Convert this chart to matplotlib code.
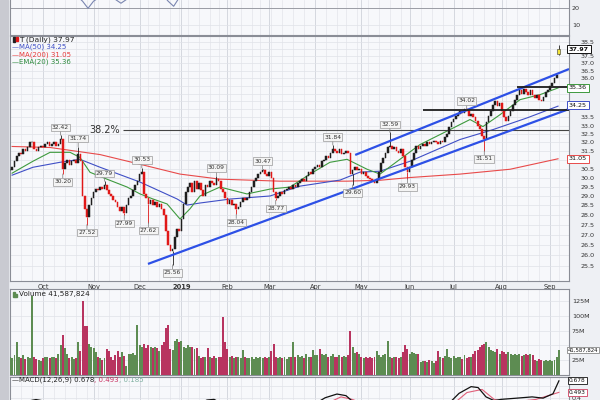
import numpy as np
import pandas as pd
import matplotlib.pyplot as plt
import matplotlib.transforms as mtransforms
from matplotlib.patches import Rectangle
from matplotlib.ticker import FormatStrFormatter, NullLocator, NullFormatter

# trading calendar (Sep 10 2018 .. Sep 9 2019)
holidays = ['2018-11-22', '2018-12-05', '2018-12-25', '2019-01-01', '2019-01-21',
            '2019-02-18', '2019-04-19', '2019-05-27', '2019-07-04', '2019-09-02']
dates = pd.bdate_range('2018-09-10', '2019-09-09', freq='C', holidays=holidays)

# daily closes
closes = [
    30.4, 30.6, 30.9, 31.2, 31.4, 31.3, 31.6, 31.5, 31.7, 32.0,
    32.0, 31.6, 31.5, 31.7, 31.8, 31.7, 31.9, 32.0, 31.8, 31.9,
    32.0, 31.8, 31.9, 32.2, 30.5, 30.8, 31.0, 30.7, 30.9, 31.0,
    30.8, 31.3, 30.9, 29.0, 28.3, 27.9, 28.5, 28.9, 29.2, 29.4,
    29.3, 29.5, 29.4, 29.6, 29.3, 29.1, 29.0, 28.8, 28.7, 28.4,
    28.2, 28.4, 28.1, 28.5, 28.9, 29.0, 29.3, 29.6, 29.8, 30.2,
    30.3, 29.1, 28.9, 28.6, 28.8, 28.5, 28.7, 28.4, 28.6, 28.3,
    28.0, 27.2, 26.5, 26.2, 26.3, 26.9, 27.3, 27.2, 27.8, 28.6,
    29.2, 29.5, 29.7, 29.2, 29.8, 29.4, 29.7, 29.3, 29.0, 29.6,
    29.5, 29.8, 29.7, 29.6, 29.9, 29.8, 29.4, 29.2, 28.9, 28.6,
    28.8, 28.5, 28.6, 28.3, 28.4, 28.7, 28.9, 28.8, 28.9, 29.2,
    29.5, 29.8, 30.0, 30.2, 30.3, 30.4, 30.2, 30.1, 30.3, 30.0,
    29.2, 28.9, 29.0, 29.2, 29.1, 29.3, 29.4, 29.5, 29.4, 29.6,
    29.5, 29.7, 29.8, 29.9, 29.8, 30.1, 30.3, 30.2, 30.5, 30.6,
    30.7, 30.6, 30.9, 31.0, 31.2, 31.1, 31.4, 31.6, 31.5, 31.4,
    31.6, 31.3, 31.4, 31.5, 31.4, 30.2, 30.4, 30.6, 30.4, 30.5,
    30.2, 30.3, 30.1, 30.0, 29.9, 29.8, 29.7, 29.9, 30.3, 30.8,
    31.1, 31.4, 31.7, 31.8, 31.6, 31.7, 31.5, 31.4, 31.6, 31.2,
    30.6, 30.3, 30.6, 31.0, 31.4, 31.8, 31.6, 31.8, 31.9, 31.8,
    32.0, 31.9, 32.0, 32.1, 32.0, 31.9, 32.1, 32.0, 32.3, 32.5,
    32.9, 33.2, 33.4, 33.6, 33.7, 33.9, 33.8, 34.0, 33.9, 33.6,
    33.7, 33.5, 33.3, 33.0, 32.8, 32.4, 32.2, 33.2, 33.6, 33.9,
    34.3, 34.5, 34.2, 34.4, 33.9, 33.5, 33.3, 33.6, 33.9, 34.3,
    34.6, 34.9, 35.2, 35.0, 35.3, 35.1, 34.9, 35.2, 34.9, 34.7,
    34.9, 34.6, 34.5, 34.8, 35.1, 35.2, 35.5, 35.7, 36.0, 36.2,
    37.97,
]
last_open, last_high, last_low = 37.62, 38.25, 37.55

# daily volume, millions
volume = [
    31, 29, 34, 55, 30, 28, 33, 27, 30, 29,
    133, 30, 27, 26, 24, 29, 30, 31, 28, 30,
    31, 29, 35, 50, 68, 45, 35, 28, 30, 27,
    29, 56, 40, 125, 82, 82, 52, 48, 45, 38,
    30, 28, 26, 29, 44, 40, 30, 26, 34, 40,
    31, 38, 32, 15, 36, 35, 37, 34, 85, 50,
    48, 52, 45, 50, 47, 46, 48, 45, 40, 50,
    55, 80, 84, 44, 42, 57, 60, 55, 58, 47,
    45, 50, 48, 47, 44, 46, 32, 28, 30, 30,
    45, 30, 28, 32, 29, 30, 31, 97, 55, 44,
    30, 32, 29, 30, 31, 28, 42, 30, 28, 29,
    31, 27, 30, 29, 30, 28, 31, 29, 30, 40,
    53, 30, 28, 31, 29, 30, 27, 30, 31, 55,
    30, 33, 30, 32, 28, 35, 31, 30, 42, 34,
    33, 43, 36, 33, 35, 30, 32, 35, 30, 31,
    33, 30, 32, 30, 34, 75, 47, 37, 38, 35,
    30, 28, 31, 29, 30, 28, 31, 40, 33, 30,
    33, 35, 57, 30, 28, 31, 30, 29, 30, 38,
    50, 44, 36, 38, 37, 35, 36, 22, 24, 23,
    22, 25, 23, 21, 24, 40, 30, 28, 32, 43,
    30, 28, 32, 29, 31, 30, 27, 33, 29, 30,
    31, 35, 40, 42, 47, 50, 52, 55, 48, 42,
    40, 38, 43, 36, 40, 38, 36, 39, 35, 33,
    36, 34, 35, 32, 34, 36, 33, 35, 34, 25,
    24, 27, 25, 24, 26, 23, 25, 24, 26, 30,
    41.59,
]

# moving averages (sampled points: trading-day index, price)
ma50_x = [0.9, 10.4, 22.7, 31.8, 41, 59.2, 76.1, 80.6, 86.6, 100.4, 118.4, 132.1, 150.3, 159.4, 168.5, 182.2, 205, 220, 235.5, 249.6]
ma50_y = [30.13, 30.57, 30.85, 31.02, 30.57, 29.75, 28.84, 28.52, 28.63, 28.84, 29.0, 29.53, 29.86, 30.3, 30.35, 30.91, 32.17, 32.76, 33.47, 34.2]
ma200_x = [0.9, 18.2, 41, 59.2, 77.4, 95.6, 123, 153.5, 168.5, 182.2, 205, 227.8, 249.6]
ma200_y = [31.76, 31.70, 31.29, 30.74, 30.19, 29.91, 29.80, 29.80, 29.85, 30.0, 30.19, 30.46, 31.05]
ema20_x = [0.9, 10.4, 18.2, 27.3, 31.8, 36.4, 44.1, 53.3, 59.2, 65.1, 71.5, 77.4, 81.9, 86.5, 95.6, 107.9, 118.4, 127.5,
           136.6, 145.7, 153.5, 162.6, 168.5, 177.6, 186.7, 200.4, 209.5, 215.4, 223.2, 232.3, 241.4, 249.6]
ema20_y = [30.24, 30.91, 31.42, 31.42, 31.13, 30.29, 29.91, 29.48, 29.11, 28.84, 28.58, 27.8, 28.32, 29.0, 29.48, 29.11, 29.37, 29.48,
           30.19, 30.85, 31.02, 30.46, 30.19, 31.02, 31.87, 32.76, 33.37, 32.94, 33.67, 34.61, 34.93, 35.36]

# labelled swing highs / lows
pivot_idx = [23, 24, 31, 35, 43, 52, 60, 63, 74, 94, 103, 115, 121, 147, 156, 173, 181, 208, 216]
pivot_val = [32.42, 30.20, 31.74, 27.52, 29.79, 27.99, 30.53, 27.62, 25.56, 30.09, 28.04, 30.47, 28.77, 31.84, 29.60, 32.59, 29.93, 34.02, 31.51]
pivot_side = ['h', 'l', 'h', 'l', 'h', 'l', 'h', 'l', 'l', 'h', 'l', 'h', 'l', 'h', 'l', 'h', 'l', 'h', 'l']

# channel lines and horizontal levels
lower_line = ([62.8, 254.6], [25.60, 34.02])
upper_line = ([157.2, 254.6], [31.27, 36.61])
fib_level, fib_start = 32.72, 51.4
res1_level, res1_start = 33.97, 188.1
res2_level, res2_start = 35.40, 230.9

# MACD (12,26,9), only top part of the panel is visible
macd_x = [0, 5.9, 9.3, 11.8, 14.5, 17.3, 20.5, 22.7, 25.5, 40, 70, 80, 86.1, 89.7, 92.9, 96.5, 110, 130, 138.5, 143.5,
          148.9, 153, 157.6, 170, 190, 199.5, 204.5, 210, 213.2, 216.8, 220.5, 223.6, 230.9, 237.8, 242.8, 247.3, 250]
macd_y = [0.25, 0.31, 0.36, 0.377, 0.36, 0.33, 0.36, 0.34, 0.28, 0.0, -0.4, 0.0, 0.31, 0.37, 0.38, 0.31, 0.1, 0.1, 0.3, 0.406,
          0.466, 0.44, 0.3, 0.1, 0.1, 0.3, 0.477, 0.585, 0.57, 0.42, 0.36, 0.38, 0.40, 0.42, 0.40, 0.47, 0.678]
signal_x = [0, 15, 30, 100, 140, 145.3, 150.7, 155.8, 162, 195, 202.7, 208.1, 215, 220.5, 227.3, 239.6, 250]
signal_y = [0.2, 0.33, 0.2, 0.1, 0.2, 0.33, 0.42, 0.38, 0.3, 0.2, 0.33, 0.49, 0.54, 0.38, 0.33, 0.38, 0.493]

# oscillator in the clipped top panel
osc_x = [0, 28, 33, 35.5, 38, 45, 48, 50.5, 53, 68, 72, 74.5, 77, 250]
osc_y = [32, 30, 24, 19.8, 24, 30, 25, 22.8, 25, 30, 24, 21, 26, 32]

# ---------------------------------------------------------------
closes = np.array(closes)
n = len(closes)
x = np.arange(n)
opens = np.r_[closes[0], closes[:-1]]
opens[-1] = last_open
is_up = np.r_[True, closes[1:] >= closes[:-1]]

month_idx = [i for i in range(1, n) if dates[i].month != dates[i - 1].month]
month_lbl = ['2019' if dates[i].month == 1 else dates[i].strftime('%b') for i in month_idx]
week_idx = [i for i in range(1, n) if dates[i].weekday() < dates[i - 1].weekday()]

fig = plt.figure(figsize=(6, 4), dpi=100, facecolor='#eef0f4')
fig.patches.append(Rectangle((0, 0), 8 / 600, 1, transform=fig.transFigure, color='#c9cad1', zorder=0))


def px_axes(left, top, right, bottom):
    a = fig.add_axes([left / 600, 1 - bottom / 400, (right - left) / 600, (bottom - top) / 400])
    a.set_facecolor('#f7f8fb')
    a.set_xlim(-0.05, 254.6)
    a.set_xticks(month_idx)
    a.set_xticks(week_idx, minor=True)
    a.grid(which='minor', axis='x', color='#e3e5eb', lw=0.5)
    a.grid(which='major', axis='x', color='#cfd2da', lw=0.6)
    a.grid(which='major', axis='y', color='#e0e2e8', lw=0.5)
    a.tick_params(axis='x', which='both', length=0, labelbottom=False)
    a.yaxis.tick_right()
    a.tick_params(axis='y', which='both', length=0, labelsize=4.6, labelcolor='#333', pad=2)
    for s in a.spines.values():
        s.set_color('#8a8d96')
        s.set_linewidth(0.8)
    a.set_axisbelow(True)
    return a


ax_top = px_axes(10, 0, 569, 35)
ax = px_axes(10, 36, 569, 281)
ax_vol = px_axes(10, 289, 569, 375)
ax_macd = px_axes(10, 377, 569, 400)

# --- top panel
ax_top.spines['top'].set_visible(False)
ax_top.set_ylim(4.1, 24.7)
ax_top.set_yticks([10, 20])
ax_top.axhline(20, color='#9a9ca4', lw=0.7)
ax_top.plot(osc_x, osc_y, color='#7a86b0', lw=0.8)

# --- price panel
ax.set_yscale('log')
ax.set_ylim(24.81, 38.9)
price_ticks = np.arange(25.5, 38.51, 0.5)
hidden = {31.0, 34.0, 34.5, 35.0, 35.5, 38.0}   # sit under the value boxes
ax.set_yticks(price_ticks)
ax.set_yticklabels(['' if round(t, 1) in hidden else f'{t:.1f}' for t in price_ticks])
ax.yaxis.set_minor_locator(NullLocator())
ax.yaxis.set_minor_formatter(NullFormatter())
ax.tick_params(axis='y', pad=8)
ax.tick_params(axis='x', labelbottom=True, labelsize=4.8, labelcolor='#333', pad=2.5)
ax.set_xticklabels(month_lbl)
for t in ax.get_xticklabels():
    if t.get_text() == '2019':
        t.set_fontweight('bold')

ax.plot(ma200_x, ma200_y, color='#e84a4a', lw=0.8, zorder=2)
ax.plot(ma50_x, ma50_y, color='#3f4fc6', lw=0.8, zorder=2)
ax.plot(ema20_x, ema20_y, color='#3e9a3e', lw=0.8, zorder=2)

body_lo = np.minimum(opens, closes)
body_hi = np.maximum(opens, closes)
ccol = np.where(is_up, '#1e1e1e', '#e01818')
ax.bar(x[:-1], (body_hi - body_lo)[:-1], bottom=body_lo[:-1], width=0.75,
       color=ccol[:-1], edgecolor=ccol[:-1], linewidth=0.35, zorder=3)
ax.vlines(x[-1], last_low, last_high, color='#222', lw=0.6, zorder=3)
ax.bar(x[-1], closes[-1] - last_open, bottom=last_open, width=1.4, color='#f2e33a',
       edgecolor='#333', linewidth=0.4, zorder=4)

for i, v, s in zip(pivot_idx, pivot_val, pivot_side):
    edge = body_hi[i] if s == 'h' else body_lo[i]
    ax.vlines(i, edge, v, color=ccol[i], lw=0.6, zorder=3)
    ax.annotate(f'{v:.2f}', xy=(i, v), xytext=(0, 4 if s == 'h' else -4), textcoords='offset points',
                ha='center', va='bottom' if s == 'h' else 'top', fontsize=4.3, color='#333',
                bbox=dict(boxstyle='square,pad=0.2', fc='#f4f4f4', ec='#9a9a9a', lw=0.5),
                arrowprops=dict(arrowstyle='-', color='#777', lw=0.5, shrinkA=0, shrinkB=0), zorder=5)

ax.plot(*lower_line, color='#2d50e6', lw=1.6, solid_capstyle='butt', zorder=4)
ax.plot(*upper_line, color='#2d50e6', lw=1.6, solid_capstyle='butt', zorder=4)
ax.hlines(fib_level, fib_start, 254.6, color='#444', lw=0.8, zorder=2)
ax.text(fib_start - 1.5, fib_level, '38.2%', ha='right', va='center', fontsize=7, color='#333')
ax.hlines(res1_level, res1_start, 254.6, color='#1e1e1e', lw=1.3, zorder=4)
ax.hlines(res2_level, res2_start, 254.6, color='#1e1e1e', lw=1.3, zorder=4)

blend = mtransforms.blended_transform_factory(ax.transAxes, ax.transData)
for val, ec in [(37.97, '#111111'), (35.36, '#3e9a3e'), (34.25, '#3f4fc6'), (31.05, '#e84a4a')]:
    ax.text(1.0, val, f'{val:.2f}', transform=blend, ha='left', va='center', fontsize=4.6,
            color='#111', fontweight='bold' if val == 37.97 else 'normal', zorder=6, clip_on=False,
            bbox=dict(boxstyle='square,pad=0.25', fc='white', ec=ec, lw=0.7))

# legend of the price panel
fig.patches.append(Rectangle((12.5 / 600, 1 - 42 / 400), 2 / 600, 5 / 400, transform=fig.transFigure, color='#222'))
fig.patches.append(Rectangle((15.5 / 600, 1 - 41 / 400), 2 / 600, 4 / 400, transform=fig.transFigure, color='#e01818'))
fig.text(19 / 600, 1 - 39.5 / 400, 'T (Daily) 37.97', fontsize=5.4, color='#222', va='center')
fig.text(12 / 600, 1 - 47 / 400, '\u2014MA(50) 34.25', fontsize=5.0, color='#3f4fc6', va='center')
fig.text(12 / 600, 1 - 54.5 / 400, '\u2014MA(200) 31.05', fontsize=5.0, color='#e83a3a', va='center')
fig.text(12 / 600, 1 - 62 / 400, '\u2014EMA(20) 35.36', fontsize=5.0, color='#2e8b3e', va='center')

# --- volume panel
volume = np.array(volume)
vcol = np.where(is_up, '#5d8c52', '#b83460')
ax_vol.bar(x, volume, width=0.9, color=vcol, linewidth=0, zorder=3)
ax_vol.set_ylim(0, 145)
ax_vol.set_yticks([25, 50, 75, 100, 125])
ax_vol.set_yticklabels(['25M', '', '75M', '100M', '125M'])
vblend = mtransforms.blended_transform_factory(ax_vol.transAxes, ax_vol.transData)
ax_vol.text(0.998, volume[-1], '41,587,824', transform=vblend, ha='left', va='center', fontsize=3.9,
            color='#111', zorder=6, clip_on=False,
            bbox=dict(boxstyle='square,pad=0.12', fc='white', ec='#888', lw=0.6))
fig.patches.append(Rectangle((13 / 600, 1 - 297 / 400), 1.5 / 600, 5 / 400, transform=fig.transFigure, color='#5d8c52'))
fig.patches.append(Rectangle((15 / 600, 1 - 297 / 400), 1.5 / 600, 3 / 400, transform=fig.transFigure, color='#5d8c52'))
fig.text(19 / 600, 1 - 294 / 400, 'Volume 41,587,824', fontsize=5.2, color='#222', va='center')

# --- MACD panel
ax_macd.spines['bottom'].set_visible(False)
ax_macd.set_ylim(0.37, 0.74)
ax_macd.set_yticks([0.4, 0.6])
ax_macd.set_yticklabels(['0.4', ''])
ax_macd.plot(signal_x, signal_y, color='#e0607a', lw=0.8, zorder=3)
ax_macd.plot(macd_x, macd_y, color='#111', lw=0.9, zorder=4)
mblend = mtransforms.blended_transform_factory(ax_macd.transAxes, ax_macd.transData)
for val, ec in [(0.678, '#111'), (0.493, '#d04060')]:
    ax_macd.text(1.0, val, f'{val:.3f}', transform=mblend, ha='left', va='center', fontsize=4.2,
                 color='#111', zorder=6, clip_on=False,
                 bbox=dict(boxstyle='square,pad=0.15', fc='white', ec=ec, lw=0.6))
t1 = fig.text(12 / 600, 1 - 380 / 400, '\u2014MACD(12,26,9) 0.678', fontsize=5.0, color='#222', va='center')
t2 = ax_macd.annotate(', 0.493', xy=(1, 0.5), xycoords=t1, va='center', fontsize=5.0, color='#c83060')
ax_macd.annotate(', 0.185', xy=(1, 0.5), xycoords=t2, va='center', fontsize=5.0, color='#7fb0a0')

fig.savefig('out.png', dpi=100, facecolor=fig.get_facecolor())
